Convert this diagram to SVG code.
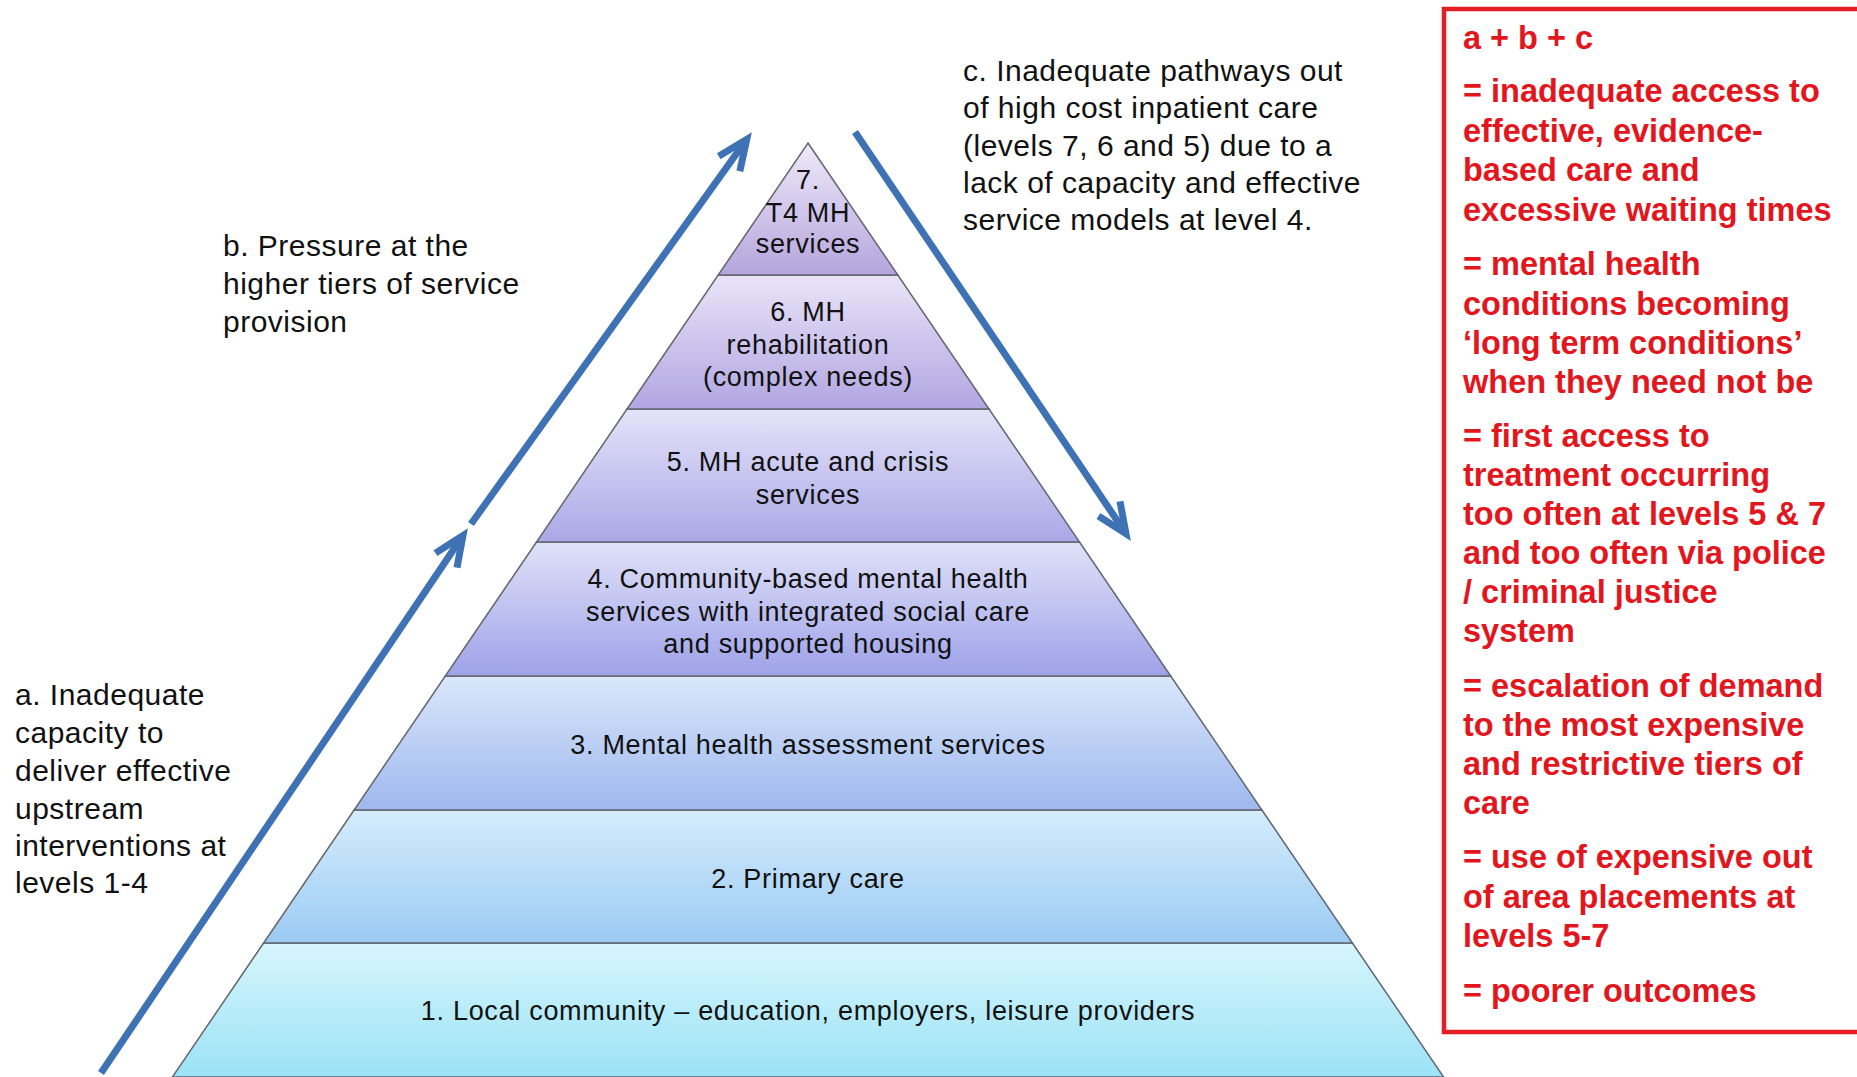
<svg xmlns="http://www.w3.org/2000/svg" width="1857" height="1077" viewBox="0 0 1857 1077">
  <style>
    .band { stroke: #62666f; stroke-width: 1.5; }
    .lbl { font-family: "Liberation Sans", Arial, sans-serif; font-size: 27px; letter-spacing: 0.7px; fill: #111; text-anchor: middle; }
    .note { font-family: "Liberation Sans", Arial, sans-serif; font-size: 30px; letter-spacing: 0.5px; fill: #111; }
    .res { font-family: "Liberation Sans", Arial, sans-serif; font-size: 32.5px; font-weight: bold; fill: #e3161d; }
    .arrow { stroke: #3f72b5; stroke-width: 7; fill: none; }
  </style>
  <defs>
    <linearGradient id="g7" x1="0" y1="0" x2="0" y2="1"><stop offset="0" stop-color="#efeafa"/><stop offset="1" stop-color="#b5a5dc"/></linearGradient>
    <linearGradient id="g6" x1="0" y1="0" x2="0" y2="1"><stop offset="0" stop-color="#e9e4f8"/><stop offset="1" stop-color="#b1a6e2"/></linearGradient>
    <linearGradient id="g5" x1="0" y1="0" x2="0" y2="1"><stop offset="0" stop-color="#e5e3f9"/><stop offset="1" stop-color="#a9a8e6"/></linearGradient>
    <linearGradient id="g4" x1="0" y1="0" x2="0" y2="1"><stop offset="0" stop-color="#e0e1f9"/><stop offset="1" stop-color="#9ea2e8"/></linearGradient>
    <linearGradient id="g3" x1="0" y1="0" x2="0" y2="1"><stop offset="0" stop-color="#dae7fb"/><stop offset="1" stop-color="#9eb8ee"/></linearGradient>
    <linearGradient id="g2" x1="0" y1="0" x2="0" y2="1"><stop offset="0" stop-color="#d5edfc"/><stop offset="1" stop-color="#9bcaf3"/></linearGradient>
    <linearGradient id="g1" x1="0" y1="0" x2="0" y2="1"><stop offset="0" stop-color="#d7f5fd"/><stop offset="1" stop-color="#9be3f6"/></linearGradient>
    <marker id="open" markerUnits="userSpaceOnUse" markerWidth="60" markerHeight="60" viewBox="-40 -30 60 60" refX="-3" refY="0" orient="auto" overflow="visible">
      <path d="M-30,-13 L0,0 L-30,13" fill="none" stroke="#3f72b5" stroke-width="7" stroke-linejoin="miter"/>
    </marker>
  </defs>

  <rect width="1857" height="1077" fill="#ffffff"/>

  <!-- pyramid tiers, bottom to top -->
  <g id="tier1">
    <polygon class="band" fill="url(#g1)" points="263.6,943 1352.4,943 1443.6,1077 172.4,1077"/>
    <text class="lbl" x="808" y="1020">1. Local community – education, employers, leisure providers</text>
  </g>
  <g id="tier2">
    <polygon class="band" fill="url(#g2)" points="354.1,810 1261.9,810 1352.4,943 263.6,943"/>
    <text class="lbl" x="808" y="888">2. Primary care</text>
  </g>
  <g id="tier3">
    <polygon class="band" fill="url(#g3)" points="445.3,676 1170.7,676 1261.9,810 354.1,810"/>
    <text class="lbl" x="808" y="754">3. Mental health assessment services</text>
  </g>
  <g id="tier4">
    <polygon class="band" fill="url(#g4)" points="536.5,542 1079.5,542 1170.7,676 445.3,676"/>
    <text class="lbl" x="808" y="588">4. Community-based mental health</text>
    <text class="lbl" x="808" y="621">services with integrated social care</text>
    <text class="lbl" x="808" y="653">and supported housing</text>
  </g>
  <g id="tier5">
    <polygon class="band" fill="url(#g5)" points="627,409 989,409 1079.5,542 536.5,542"/>
    <text class="lbl" x="808" y="471">5. MH acute and crisis</text>
    <text class="lbl" x="808" y="504">services</text>
  </g>
  <g id="tier6">
    <polygon class="band" fill="url(#g6)" points="718.2,275 897.8,275 989,409 627,409"/>
    <text class="lbl" x="808" y="321">6. MH</text>
    <text class="lbl" x="808" y="354">rehabilitation</text>
    <text class="lbl" x="808" y="386">(complex needs)</text>
  </g>
  <g id="tier7">
    <polygon class="band" fill="url(#g7)" points="808,143 897.8,275 718.2,275"/>
    <text class="lbl" x="808" y="189">7.</text>
    <text class="lbl" x="808" y="222">T4 MH</text>
    <text class="lbl" x="808" y="253">services</text>
  </g>

  <!-- side annotations -->
  <g id="note-a">
    <text class="note" x="15" y="705">a.  Inadequate</text>
    <text class="note" x="15" y="743">capacity  to</text>
    <text class="note" x="15" y="781">deliver effective</text>
    <text class="note" x="15" y="819">upstream</text>
    <text class="note" x="15" y="856">interventions at</text>
    <text class="note" x="15" y="893">levels 1-4</text>
  </g>
  <g id="note-b">
    <text class="note" x="223" y="256">b. Pressure at the</text>
    <text class="note" x="223" y="294">higher tiers of service</text>
    <text class="note" x="223" y="332">provision</text>
  </g>
  <g id="note-c">
    <text class="note" x="963" y="81">c. Inadequate pathways out</text>
    <text class="note" x="963" y="118">of high cost inpatient care</text>
    <text class="note" x="963" y="156">(levels 7, 6 and 5) due to a</text>
    <text class="note" x="963" y="193">lack of capacity and effective</text>
    <text class="note" x="963" y="230">service models at level 4.</text>
  </g>

  <!-- consequences box -->
  <g id="outcomes">
    <rect x="1444" y="9" width="416" height="1023" fill="none" stroke="#e31e24" stroke-width="4.5"/>
    <text class="res" x="1463" y="49">a + b + c</text>
    <text class="res" x="1463" y="102">= inadequate access to</text>
    <text class="res" x="1463" y="141.5">effective, evidence-</text>
    <text class="res" x="1463" y="181">based care and</text>
    <text class="res" x="1463" y="220.5">excessive waiting times</text>
    <text class="res" x="1463" y="275">= mental health</text>
    <text class="res" x="1463" y="314.5">conditions becoming</text>
    <text class="res" x="1463" y="354">‘long term conditions’</text>
    <text class="res" x="1463" y="393">when they need not be</text>
    <text class="res" x="1463" y="446.5">= first access to</text>
    <text class="res" x="1463" y="486">treatment  occurring</text>
    <text class="res" x="1463" y="525">too often at levels 5 &amp; 7</text>
    <text class="res" x="1463" y="564">and too often via police</text>
    <text class="res" x="1463" y="603">/ criminal justice</text>
    <text class="res" x="1463" y="642">system</text>
    <text class="res" x="1463" y="697">= escalation of demand</text>
    <text class="res" x="1463" y="736">to the most expensive</text>
    <text class="res" x="1463" y="775">and restrictive tiers of</text>
    <text class="res" x="1463" y="814">care</text>
    <text class="res" x="1463" y="868">= use of expensive out</text>
    <text class="res" x="1463" y="907.5">of area placements at</text>
    <text class="res" x="1463" y="947">levels 5-7</text>
    <text class="res" x="1463" y="1002">= poorer outcomes</text>
  </g>

  <!-- flow arrows -->
  <g id="connectors">
    <line class="arrow" x1="101" y1="1073" x2="461.3" y2="538" marker-end="url(#open)"/>
    <line class="arrow" x1="471" y1="524" x2="745" y2="141.8" marker-end="url(#open)"/>
    <line class="arrow" x1="855" y1="132" x2="1124.3" y2="531.1" marker-end="url(#open)"/>
  </g>
</svg>
